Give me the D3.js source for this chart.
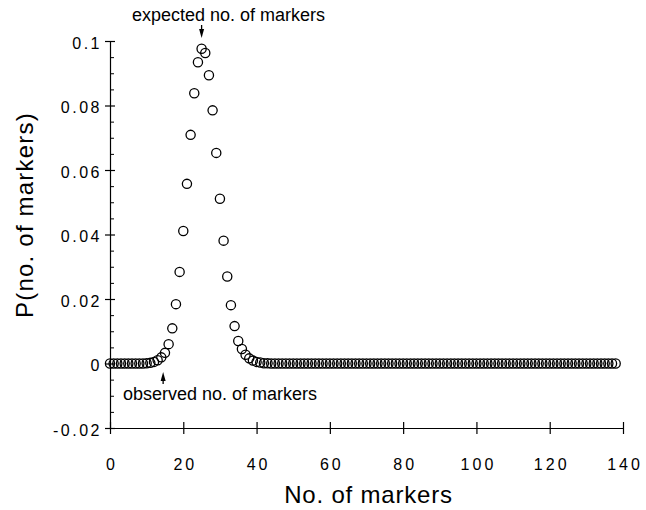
<!DOCTYPE html>
<html>
<head>
<meta charset="utf-8">
<script src="https://cdn.jsdelivr.net/npm/d3@7"></script>
<style>
  body { margin: 0; background: #fff; }
  text { font-family: "Liberation Sans", Arial, Helvetica, sans-serif; fill: #000; }
</style>
</head>
<body>
<div id="chart-area"></div>
<script>
// probability of each number of markers, n = 0 .. 138
const probs = [
  0, 0, 0, 0, 0, 0, 0, 0, 0, 0,
  0.0001, 0.0002, 0.0005, 0.0010, 0.0019, 0.0033, 0.0060, 0.0109, 0.0184, 0.0284,
  0.0411, 0.0557, 0.0709, 0.0838, 0.0934, 0.0976, 0.0963, 0.0894, 0.0785, 0.0653,
  0.0511, 0.0381, 0.0270, 0.0181, 0.0116, 0.0070, 0.0045, 0.0027, 0.0016, 0.0009,
  0.0005, 0.0003, 0.0001, 0.0001, 0, 0, 0, 0, 0, 0,
  0, 0, 0, 0, 0, 0, 0, 0, 0, 0,
  0, 0, 0, 0, 0, 0, 0, 0, 0, 0,
  0, 0, 0, 0, 0, 0, 0, 0, 0, 0,
  0, 0, 0, 0, 0, 0, 0, 0, 0, 0,
  0, 0, 0, 0, 0, 0, 0, 0, 0, 0,
  0, 0, 0, 0, 0, 0, 0, 0, 0, 0,
  0, 0, 0, 0, 0, 0, 0, 0, 0, 0,
  0, 0, 0, 0, 0, 0, 0, 0, 0, 0,
  0, 0, 0, 0, 0, 0, 0, 0, 0
];

const xTicks = [0, 20, 40, 60, 80, 100, 120, 140];
const yTicks = [0.1, 0.08, 0.06, 0.04, 0.02, 0, -0.02];
const yTickLabels = ['0.1', '0.08', '0.06', '0.04', '0.02', '0', '-0.02'];
const yMinorTicks = [0.095, 0.09, 0.085, 0.075, 0.07, 0.065, 0.055, 0.05, 0.045,
  0.035, 0.03, 0.025, 0.015, 0.01, 0.005, -0.005, -0.01, -0.015];

const notes = [
  { label: 'expected no. of markers', n: 25, dir: 'down' },
  { label: 'observed no. of markers', n: 14.5, dir: 'up' }
];

const W = 646, H = 510;

const x = d3.scaleLinear().domain([0, 140]).range([110, 623]);
const y = d3.scaleLinear().domain([-0.02, 0.1]).range([428, 41]);

const svg = d3.select('#chart-area').append('svg')
  .attr('width', W)
  .attr('height', H);

// x axis
const xAxis = svg.append('g')
  .attr('transform', `translate(0,${y(-0.02)})`)
  .call(d3.axisBottom(x).tickValues(xTicks).tickSize(0).tickPadding(0).tickSizeOuter(0));
xAxis.select('.domain').attr('stroke', '#000').attr('stroke-width', 1.2);
xAxis.selectAll('.tick line').attr('y1', -6).attr('y2', 6).attr('stroke', '#000').attr('stroke-width', 1.2);
xAxis.selectAll('.tick text')
  .attr('y', 42)
  .attr('dy', 0)
  .attr('dx', '1.5')
  .style('font-size', '16px')
  .style('letter-spacing', '3px')
  .attr('fill', '#000');

// y axis
const yAxis = svg.append('g')
  .attr('transform', `translate(${x(0)},0)`)
  .call(d3.axisLeft(y).tickValues(yTicks).tickSize(0).tickSizeOuter(0)
    .tickFormat((d, i) => yTickLabels[i]));
yAxis.select('.domain').attr('stroke', '#000').attr('stroke-width', 1.2);
yAxis.selectAll('.tick line').attr('x1', -5).attr('x2', 5).attr('stroke', '#000').attr('stroke-width', 1.2);
yAxis.selectAll('.tick text')
  .attr('x', -8)
  .attr('dy', '0.45em')
  .style('font-size', '16px')
  .style('letter-spacing', '2.5px')
  .attr('fill', '#000');

svg.append('g')
  .attr('transform', `translate(${x(0)},0)`)
  .call(d3.axisRight(y).tickValues(yMinorTicks).tickSize(4).tickFormat(''))
  .call(g => g.select('.domain').remove())
  .selectAll('.tick line').attr('stroke', '#000').attr('stroke-width', 1);

// axis titles
svg.append('text')
  .attr('x', (x(0) + x(140)) / 2 + 2)
  .attr('y', 503)
  .attr('text-anchor', 'middle')
  .style('font-size', '24px')
  .style('letter-spacing', '0.8px')
  .text('No. of markers');

svg.append('text')
  .attr('transform', `translate(33,215) rotate(-90)`)
  .attr('text-anchor', 'middle')
  .style('font-size', '24px')
  .style('letter-spacing', '1.2px')
  .text('P(no. of markers)');

// points
svg.append('g').selectAll('circle')
  .data(probs)
  .enter().append('circle')
    .attr('cx', (d, i) => x(i))
    .attr('cy', d => y(d))
    .attr('r', 4.6)
    .attr('fill', 'none')
    .attr('stroke', '#000')
    .attr('stroke-width', 1.3);

// annotations
const exp = notes[0], obs = notes[1];
svg.append('text')
  .attr('x', 132).attr('y', 21)
  .style('font-size', '18px')
  .text(exp.label);
svg.append('line')
  .attr('x1', x(exp.n)).attr('x2', x(exp.n))
  .attr('y1', 25).attr('y2', 32)
  .attr('stroke', '#000').attr('stroke-width', 1.3);
svg.append('path')
  .attr('d', `M${x(exp.n) - 2.5},29 L${x(exp.n) + 2.5},29 L${x(exp.n)},38 Z`)
  .attr('fill', '#000');

svg.append('text')
  .attr('x', 123).attr('y', 400)
  .style('font-size', '18px')
  .text(obs.label);
svg.append('line')
  .attr('x1', x(obs.n)).attr('x2', x(obs.n))
  .attr('y1', 378).attr('y2', 384)
  .attr('stroke', '#000').attr('stroke-width', 1.3);
svg.append('path')
  .attr('d', `M${x(obs.n) - 2.5},381 L${x(obs.n) + 2.5},381 L${x(obs.n)},372 Z`)
  .attr('fill', '#000');
</script>
</body>
</html>
